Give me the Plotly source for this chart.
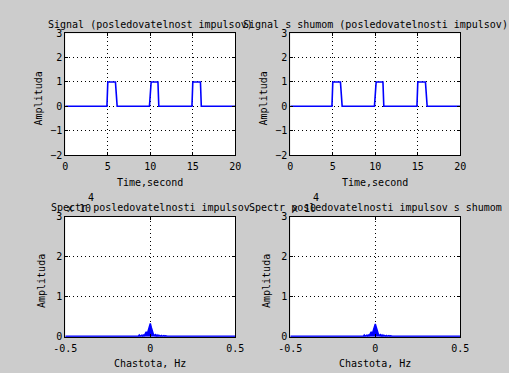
import plotly.graph_objects as go

W, H = 509, 373

# ---- data ----
t_left = [0, 4.9, 5.0, 5.9, 6.0, 6.1, 9.9, 10.0, 10.1, 10.9, 11.0, 14.9, 15.0, 15.9, 16.0, 20]
y_left = [0, 0, 1, 1, 0.5, 0, 0, 0.5, 1, 1, 0, 0, 1, 1, 0, 0]

t_right = [0, 4.9, 5.0, 5.9, 6.0, 6.1, 9.9, 10.0, 10.1, 10.9, 11.0, 14.9, 15.0, 15.9, 16.0, 16.1, 20]
y_right = [0, 0, 1, 1, 0.5, 0, 0, 0.5, 1, 1, 0, 0, 1, 1, 0.5, 0, 0]

freq = [-0.5, -0.12, -0.115, -0.11, -0.105, -0.1, -0.09, -0.085, -0.08, -0.07, -0.065,
        -0.06, -0.05, -0.045, -0.04, -0.035, -0.03, -0.024, -0.018, -0.012, -0.006, 0.0,
        0.006, 0.012, 0.018, 0.024, 0.03, 0.035, 0.04, 0.045, 0.05, 0.06, 0.065, 0.07,
        0.08, 0.085, 0.09, 0.1, 0.105, 0.11, 0.5]
spec_left = [120, 120, 300, 120, 250, 120, 300, 120, 250, 120, 400, 120, 350, 120, 500, 120,
             700, 1200, 700, 1500, 2500, 3300, 2300, 1300, 600, 300, 500, 120, 400, 120,
             350, 120, 300, 120, 300, 120, 250, 120, 200, 120, 120]
spec_right = [120, 120, 300, 120, 250, 120, 300, 120, 250, 120, 400, 120, 350, 120, 500, 120,
              700, 1200, 700, 1500, 2500, 3200, 2300, 1300, 600, 300, 500, 120, 400, 120,
              350, 120, 300, 120, 300, 120, 250, 120, 200, 120, 120]

sig_ticks_x = [0, 5, 10, 15, 20]
sig_ticks_y = [-2, -1, 0, 1, 2, 3]
spec_ticks_x = [-0.5, 0, 0.5]
spec_ticklabels_x = ["-0.5", "0", "0.5"]
spec_ticks_y = [0, 10000, 20000, 30000]
spec_ticklabels_y = ["0", "1", "2", "3"]

titles = ["Signal (posledovatelnost impulsov)",
          "Signal s shumom (posledovatelnosti impulsov)",
          "Spectr posledovatelnosti impulsov",
          "Spectr posledovatelnosti impulsov s shumom"]

FONT = "DejaVu Sans Mono"
BLUE = "#0000ff"

# pixel boxes of the axes: (left, right, top, bottom)
boxes = [(65.3, 235.3, 33.3, 155.0), (290.3, 460.3, 33.3, 155.0),
         (65.3, 235.3, 216.7, 336.7), (290.3, 460.3, 216.7, 336.7)]


def px(x):
    return x / W


def py(y):
    return 1 - y / H


fig = go.Figure()

fig.add_trace(go.Scatter(x=t_left, y=y_left, mode="lines", line=dict(color=BLUE, width=1.6),
                         xaxis="x", yaxis="y", showlegend=False))
fig.add_trace(go.Scatter(x=t_right, y=y_right, mode="lines", line=dict(color=BLUE, width=1.6),
                         xaxis="x2", yaxis="y2", showlegend=False))
fig.add_trace(go.Scatter(x=freq, y=spec_left, mode="lines", line=dict(color=BLUE, width=1.5),
                         fill="tozeroy", fillcolor=BLUE,
                         xaxis="x3", yaxis="y3", showlegend=False))
fig.add_trace(go.Scatter(x=freq, y=spec_right, mode="lines", line=dict(color=BLUE, width=1.5),
                         fill="tozeroy", fillcolor=BLUE,
                         xaxis="x4", yaxis="y4", showlegend=False))

common = dict(showline=True, linecolor="black", linewidth=1, mirror="ticks",
              ticks="inside", ticklen=3, tickcolor="black",
              showgrid=True, gridcolor="black", griddash="1px,3px", gridwidth=1,
              zeroline=False, tickfont=dict(family=FONT, size=10, color="black"),
              fixedrange=True, automargin=False)

layout = dict(width=W, height=H, margin=dict(l=0, r=0, t=0, b=0, pad=0, autoexpand=False),
              paper_bgcolor="#cccccc", plot_bgcolor="white", showlegend=False)

for i, (l, r, t, b) in enumerate(boxes):
    n = "" if i == 0 else str(i + 1)
    xa = dict(common, domain=[px(l), px(r)], anchor="y" + n, ticklabelstandoff=2)
    ya = dict(common, domain=[py(b), py(t)], anchor="x" + n)
    if i < 2:
        xa.update(range=[0, 20], tickvals=sig_ticks_x)
        ya.update(range=[-2, 3], tickvals=sig_ticks_y)
    else:
        xa.update(range=[-0.5, 0.5], tickvals=spec_ticks_x, ticktext=spec_ticklabels_x)
        ya.update(range=[0, 30000], tickvals=spec_ticks_y, ticktext=spec_ticklabels_y)
    layout["xaxis" + n] = xa
    layout["yaxis" + n] = ya

fig.update_layout(**layout)

tf = dict(family=FONT, size=10, color="black")
ann = []
for i, (l, r, t, b) in enumerate(boxes):
    cx = (l + r) / 2
    ann.append(dict(text=titles[i], x=px(cx), y=py(t - 9), xref="paper", yref="paper",
                    showarrow=False, font=tf, xanchor="center", yanchor="middle"))
    xlabel = "Time,second" if i < 2 else "Chastota, Hz"
    ann.append(dict(text=xlabel, x=px(cx), y=py(b + 27), xref="paper", yref="paper",
                    showarrow=False, font=tf, xanchor="center", yanchor="middle"))
    ylx = l - 27 if i < 2 else l - 24
    ann.append(dict(text="Amplituda", x=px(ylx), y=py((t + b) / 2 + 4), xref="paper", yref="paper",
                    showarrow=False, font=tf, xanchor="center", yanchor="middle", textangle=-90))
    if i >= 2:
        ann.append(dict(text="x 10", x=px(l), y=py(t - 8), xref="paper", yref="paper",
                        showarrow=False, font=tf, xanchor="left", yanchor="middle"))
        ann.append(dict(text="4", x=px(l + 26), y=py(t - 19), xref="paper", yref="paper",
                        showarrow=False, font=tf, xanchor="center", yanchor="middle"))

fig.update_layout(annotations=ann)

fig.write_html("out.html", config={"displayModeBar": False},
               post_script="document.body.style.margin='0';document.body.style.overflow='hidden';")
